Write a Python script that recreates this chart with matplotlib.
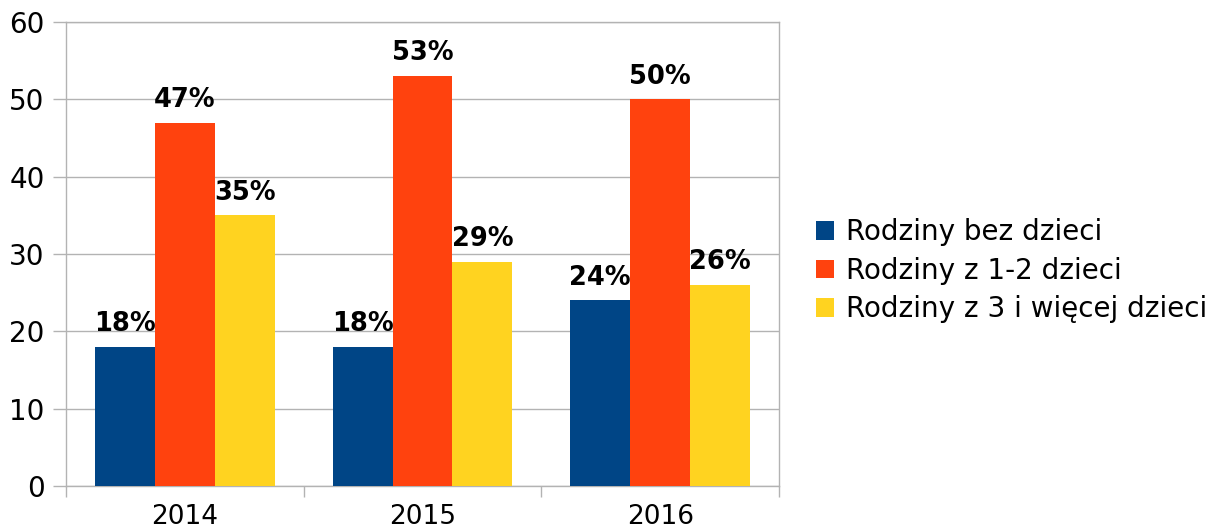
import matplotlib
matplotlib.use("Agg")
import matplotlib.pyplot as plt
import numpy as np

years = ["2014", "2015", "2016"]
series_names = ["Rodziny bez dzieci", "Rodziny z 1-2 dzieci", "Rodziny z 3 i więcej dzieci"]
bez_dzieci = [18, 18, 24]
z_1_2 = [47, 53, 50]
z_3_plus = [35, 29, 26]
yticks = [0, 10, 20, 30, 40, 50, 60]

colors = ["#004586", "#ff420e", "#ffd320"]
grid_color = "#b3b3b3"

plt.rcParams['font.family'] = ['DejaVu Sans']

fig = plt.figure(figsize=(12.2, 5.31), dpi=100)
ax = fig.add_axes([66/1220, 1-486/531, (779-66)/1220, (486-22)/531])

x = np.arange(len(years))
w = 0.252
data = [bez_dzieci, z_1_2, z_3_plus]
for i, (vals, name, c) in enumerate(zip(data, series_names, colors)):
    bars = ax.bar(x + (i-1)*w, vals, width=w, color=c, label=name, zorder=3)
    for b, v in zip(bars, vals):
        ax.annotate(f"{v}%", (b.get_x()+b.get_width()/2, v), xytext=(0, 7),
                    textcoords="offset points", ha="center", va="bottom",
                    fontsize=18.5, fontweight="bold", zorder=4)

ax.set_xlim(-0.5, len(years)-0.5)
ax.set_ylim(0, 60)
ax.set_yticks(yticks)
ax.tick_params(axis='y', labelsize=20, length=9.4, width=1, color=grid_color, pad=6)
ax.yaxis.grid(True, color=grid_color, linewidth=1, zorder=0)

ax.set_xticks(x)
ax.set_xticklabels(years)
ax.tick_params(axis='x', which='major', labelsize=19, length=0, pad=13)
ax.set_xticks(np.arange(len(years)+1)-0.5, minor=True)
ax.tick_params(axis='x', which='minor', length=8, width=1, color=grid_color)

for s in ax.spines.values():
    s.set_color(grid_color)
    s.set_linewidth(1)

handles, labels = ax.get_legend_handles_labels()
fig.legend(handles, labels, loc='center left', bbox_to_anchor=(0.648, 0.49),
           frameon=False, fontsize=20, handlelength=0.65, handleheight=0.65,
           handletextpad=0.43, labelspacing=0.38)

fig.savefig("out.png", dpi=100)
